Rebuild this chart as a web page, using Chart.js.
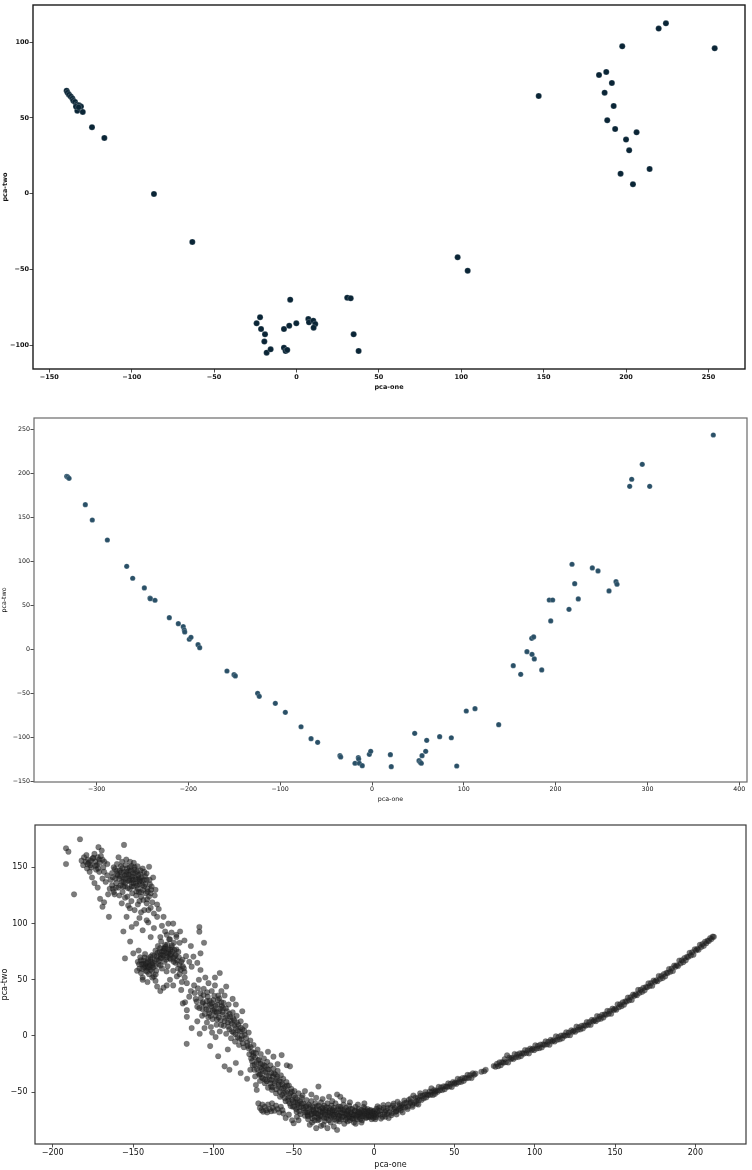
<!DOCTYPE html>
<html><head><meta charset="utf-8">
<script src="https://cdn.jsdelivr.net/npm/chart.js@4.4.1/dist/chart.umd.min.js"></script>
<style>
html,body{margin:0;padding:0;background:#fff;}
.box{position:absolute;left:0;width:752px;}
canvas{display:block;}
</style></head><body>
<div class="box" style="top:0;height:395px"><canvas id="c1" width="752" height="395"></canvas></div>
<div class="box" style="top:395px;height:415px"><canvas id="c2" width="752" height="415"></canvas></div>
<div class="box" style="top:810px;height:360px"><canvas id="c3" width="752" height="360"></canvas></div>
<script>
// ---------- Panel 1 data ----------
const topPoints = [
 [-139.5,68.0],[-138.9,66.7],[-138.0,65.4],[-137.0,64.1],[-136.0,62.8],[-135.4,61.4],[-134.4,60.6],[-133.4,58.8],
 [-132.0,58.4],[-130.8,57.5],[-133.0,54.8],[-129.7,54.0],[-133.8,57.5],[-132.2,57.1],[-124.1,43.9],[-116.6,36.8],
 [-86.5,-0.2],[-63.2,-31.9],
 [-24.2,-85.6],[-22.1,-81.6],[-21.5,-89.4],[-19.1,-92.9],[-19.5,-97.7],[-18.1,-105],[-15.7,-102.8],[-7.6,-89.4],
 [-7.6,-101.7],[-6.6,-103.9],[-5.6,-103.2],[-4.4,-87.2],[-3.8,-70],[-0.1,-85.6],[7.2,-82.8],[7.6,-85],[10.2,-83.9],
 [11.4,-86.1],[10.4,-88.5],[30.8,-68.7],[32.9,-69.1],[34.7,-92.9],[37.7,-103.9],
 [97.8,-42],[103.9,-50.9],[147,64.5],[183.6,78.4],[188,80.4],[191.4,73.1],[187,66.7],[192.5,57.9],[188.6,48.5],
 [193.4,42.7],[206.4,40.5],[200,35.7],[201.9,28.6],[196.7,13.2],[214.3,16.3],[204.2,6.2],[197.7,97.3],[219.8,109],
 [224.2,112.5],[253.8,96]
];
const topXTicks = [-150,-100,-50,0,50,100,150,200,250];
const topYTicks = [-100,-50,0,50,100];

// ---------- Panel 2 data ----------
const midPoints = [
 [-332.6,196.6],[-331.5,195.8],[-330,194.3],[-312.3,164.3],[-304.7,146.9],[-288.3,124.2],[-267.2,94.3],[-260.7,80.7],
 [-248,69.7],[-241.8,58.3],[-241.5,57.5],[-236.4,55.7],[-220.8,35.9],[-211,29.1],[-205.6,25.7],[-204.5,21.9],
 [-204,19.7],[-199,11.4],[-197.2,13.6],[-189.5,5.2],[-187.7,1.8],[-158,-24.7],[-150.3,-28.9],[-148.9,-30.3],
 [-124.6,-50],[-122.8,-53.4],[-105.3,-61.4],[-94.4,-71.6],[-77.3,-88],[-66.4,-101.6],[-59.2,-105.7],[-34.9,-120.9],
 [-34.1,-122.4],[-18.5,-129.5],[-14.9,-123.2],[-14.5,-124.7],[-13.8,-129.5],[-10.6,-132.3],[-2.9,-119.3],[-1.4,-115.9],
 [20,-119.7],[21,-133.4],[46.5,-95.5],[59.6,-103.4],[58.5,-115.9],[54.5,-120.9],[51.2,-126.6],[52.6,-128.4],
 [53.7,-129.5],[73.7,-99.3],[86.4,-100.5],[92.3,-132.6],
 [102.7,-70.1],[112.2,-67.5],[138,-85.7],[153.9,-18.6],[162,-28.4],[184.9,-23.5],[168.8,-2.7],[174.3,-5.7],
 [176.8,-11],[174,12.5],[176.1,14],[194.7,32.2],[193.1,56],[196.8,56],[214.6,45.4],[224.7,57.2],[217.9,96.6],
 [240,92.4],[246.2,89],[220.8,74.5],[265.8,76.8],[266.9,73.9],[258.2,66.3],
 [282.9,193.2],[280.7,185.2],[302.5,185.2],[294.4,210.2],[371.8,243.5]
];
const midXTicks = [-300,-200,-100,0,100,200,300,400];
const midYTicks = [-150,-100,-50,0,50,100,150,200,250];

// ---------- Panel 3 data ----------
const cloudTopLeft = [
 [-191.7,167],[-190.2,164],[-191.7,153],[-186.7,126],[-183,175],[-182,156],[-180.5,159],[-179,161],[-178,157],
 [-177.5,154],[-176,150],[-175,158],[-174,162],[-173.5,155],[-172.5,152],[-171.5,168],[-171,157],[-170,160],
 [-169.5,165],[-168.5,150],[-167.8,155],[-166,153],[-178.6,149],[-177,146],[-175.5,141],[-174,136],[-172,132],
 [-170.5,122],[-169,115],[-165,106],[-171,146],[-169,140],[-167,137],[-166,143],[-164.5,131],[-176.5,152],
 [-173,148],[-179.5,155],[-181,152],[-174.8,158.5],[-172,159],[-168,146],[-163,134],[-165.5,126],[-168,119],[-162,128]
];
const cloudUpper = [
 [-163,145],[-162,150],[-161,140],[-160.5,136],[-160,147],[-159,159],[-159,132],[-158,142],[-157.5,151],[-157,137],
 [-156.5,128],[-156,146],[-155.6,170],[-155,140],[-155,133],[-154.5,152],[-154,144],[-153.5,124],[-153,138],
 [-152.5,147],[-152,131],[-152,150],[-151.5,142],[-151,136],[-150.5,127],[-150,145],[-150,139],[-149.5,133],
 [-149,150],[-148.5,141],[-148,125],[-148,136],[-147.5,146],[-147,131],[-146.5,140],[-146,120],[-146,135],
 [-145.5,144],[-145,128],[-144.5,138],[-144,149],[-143.5,121],[-143,133],[-142.5,142],[-142,127],[-141.5,139],
 [-141,131],[-140.4,112],[-140,150.6],[-140,124],[-139.5,135],[-139,127],[-138.4,133],[-138,119],[-137.5,141],
 [-136.5,125],[-136,130],[-135,117],[-158.5,125],[-161.5,126],[-164,139],[-157,118],[-155,123],[-153,116],
 [-151,120],[-149,112],[-147,117],[-145,110],[-160,153],[-156.8,155],[-154.2,157],[-151.8,155],[-149.5,154],
 [-147.2,151],[-143,146],[-159.5,143],[-157.8,134],[-153.7,149],[-150.8,133],[-148.6,145],[-146.3,128],
 [-144.2,134],[-152.3,140],[-154.8,136],[-156.2,141],[-162.5,131],[-158.2,147],[-145.5,139],[-141.5,118],
 [-152,113.6],[-150.8,97],[-156,93],[-151.8,84],[-141.5,103],[-140.5,101],[-137,109],[-135,106],[-131,106],
 [-128,100],[-125,100],[-129,90],[-126,92],[-120.7,93],[-108.7,97],[-108.7,92.8],[-105.8,83],[-143,112],
 [-146,105],[-139,114],[-134,113],[-132,98],[-137,96],[-144,94],[-148,100],[-154,106],[-130,93],[-127,86],
 [-123,88],[-133,88],[-118,85],[-114,80],[-139,88]
];
const cloudMiddle = [
 [-155,69],[-149.8,73.5],[-147,66],[-146,60],[-145.5,70],[-145,56],[-144.5,64],[-144,52],[-143.5,67],[-143,61],
 [-142.5,73],[-142,58],[-141.5,65],[-141,62],[-140.5,69],[-140,55],[-139.5,63],[-139,59],[-138.5,66],[-138,72],
 [-137.5,61],[-137,53],[-136.5,67],[-136,76],[-135.5,58],[-135,71],[-134.5,80],[-134,64],[-133.5,75],[-133,69],
 [-132.5,84],[-132,60],[-131.5,72],[-131,78],[-130.5,66],[-130,81],[-129.5,74],[-129,70],[-128.5,62],[-128,77],
 [-127.5,86],[-127,72],[-126.5,68],[-126,79],[-125.5,75],[-125,58],[-124.5,83],[-124,71],[-123.5,65],[-123,77],
 [-122,60],[-121.5,70],[-121,55],[-120,66],[-119,62],[-144,50],[-141,48],[-135,44],[-133,40],[-131,43],[-129,45],
 [-127,50],[-136,49],[-138,52],[-147.5,58],[-146.5,76],[-140.8,60.5],[-139.2,67.8],[-142.6,62.3],[-137.8,63.2],
 [-130.8,75.7],[-128.2,73.2],[-126.8,76.8],[-132.7,72.3],[-129.8,79.3],[-124.6,66],[-122.7,53],[-119.6,48],
 [-117.8,52],[-116.5,47],[-120,41],[-125,45],[-118,57],[-112.4,70.6],[-113.5,61.7],[-108,73.5],[-110,65],
 [-123,90],[-121,83],[-117,71],[-115,66],
 [-119,29],[-117.6,30],[-116.5,23],[-116.5,17],[-113.5,7],[-116.6,-7],[-115,35],[-114,40],[-112,45],[-111,33],
 [-110,26],[-109,50],[-108,58.7],[-108,38],[-107,18],[-106.5,30],[-106,42],[-105,52],[-104.5,24],[-104,12],
 [-103.5,35],[-103,47],[-102.5,20],[-102,28],[-101.5,8],[-101,40],[-100.5,15],[-100,32],[-99.5,24],[-99,45],
 [-98.5,18],[-98,10],[-97.5,28],[-97,36],[-96.5,22],[-96,56],[-96,4],[-95.5,14],[-95,30],[-94.5,19],[-94,25],
 [-93.5,9],[-93,36],[-92.5,16],[-92,2],[-91.5,22],[-91,12],[-90.5,28],[-90,6],[-89.5,17],[-89,-2],[-88.5,11],
 [-88,21],[-87.5,3],[-87,14],[-86.5,-5],[-86,7],[-85.5,18],[-85,-1],[-84.5,10],[-84,-8],[-83.5,4],[-83,13],
 [-82.5,-3],[-82,6],[-81,-10],[-80.5,1],[-80,9],[-79,-6],[-78,3],[-104,31],[-101.2,26.5],[-99.2,21.8],
 [-97.8,14.6],[-96.3,33.4],[-94.8,26.7],[-103.2,16.8],[-106.8,24],[-100.8,3],[-98.6,-1],[-105.5,7],[-110,13],
 [-108.5,2],[-95,40],[-97,-18],[-93,-27],[-90,-30],[-83,-33],[-86,-24],[-91,-12],[-102,-9],[-88,33],[-86,28],
 [-82,22],[-92,44],[-99,52]
];
const cloudLower = [
 [-79,-38],[-78,-11],[-77,-4],[-76.5,-20],[-76,-14],[-75.5,-26],[-75,-8],[-75,-15],[-74.5,-30],[-74,-19],
 [-73.5,-43.6],[-73,-48],[-73,-24],[-72.5,-12],[-72,-33],[-71.5,-21],[-71,-28],[-70.5,-16],[-70,-37],[-69.5,-25],
 [-69,-31],[-68.5,-20],[-68,-42],[-67.5,-27],[-67,-35],[-66.5,-23],[-66,-46],[-65.5,-30],[-65,-39],[-64.5,-26],
 [-64,-33],[-63.5,-48],[-63,-36],[-62.6,-18.4],[-62.5,-29],[-62,-42],[-61.5,-34],[-61,-51],[-60.5,-38],[-60,-31],
 [-59.5,-45],[-59,-40],[-58.5,-54],[-58,-35],[-57.5,-17],[-57.5,-47],[-57,-43],[-56.5,-38],[-56,-51],[-55.5,-45],
 [-55,-58],[-54.3,-26],[-54.5,-41],[-54,-49],[-53.5,-55],[-53,-44],[-52.3,-27],[-52.5,-60],[-52,-51],[-51.5,-47],
 [-51,-57],[-50.5,-63],[-50,-53],[-49.5,-49],[-49,-59],[-48.5,-65],[-48,-56],[-47.5,-61],[-47,-51],[-46.5,-67],
 [-46,-58],[-45.5,-63],[-45,-55],[-77,-30],[-71,-40],[-66,-14],[-64,-45],[-60,-25],[-67.8,-38.8],[-70.8,-34],[-74,-36],
 [-72,-60],[-71,-64],[-70,-66],[-69,-67.3],[-68,-63],[-67,-66],[-66,-61],[-65,-65],[-64,-67],[-63,-64],[-62,-66.5],
 [-61,-62],[-60,-65],[-59,-68],[-58,-63],[-57,-66],[-69.5,-61],[-66.5,-68],[-63.5,-60],
 [-56.4,-69],[-55,-73],[-53,-70],[-51,-75],[-50,-77.7],[-48,-72],[-47,-75]
];
const valleyFloor = [
 [-44,-60],[-43.5,-66],[-43,-71],[-42.5,-63],[-42,-57],[-41.5,-68],[-41,-74],[-40.5,-61],[-40,-65],[-39.5,-70],
 [-39,-58],[-38.5,-77],[-38,-63],[-37.5,-67],[-37,-72],[-36.5,-60],[-36,-65],[-35.5,-69],[-35,-75],[-34.6,-45],
 [-34.5,-62],[-34,-66],[-33.5,-71],[-33,-59],[-32.5,-64],[-32,-68],[-31.5,-79],[-31,-62],[-30.5,-70],[-30,-66],
 [-29.5,-73],[-29,-60],[-28.5,-68],[-28,-54],[-28,-64],[-27.5,-71],[-27,-77],[-26.5,-62],[-26,-67],[-25.5,-70],
 [-25,-80.6],[-25,-64],[-24.5,-74],[-24,-60],[-23.5,-68],[-23,-52],[-23,-83.6],[-22.5,-65],[-22,-71],[-21.5,-76],
 [-21,-54],[-21,-63],[-20.5,-68],[-20,-72],[-19.5,-66],[-19,-61],[-18.5,-78],[-18,-69],[-17.5,-64],[-17,-73],
 [-16.5,-67],[-16,-70],[-15.5,-62],[-15,-75],[-14.5,-68],[-14,-72],[-13.5,-65],[-13,-70],[-12.5,-77],[-12,-67],
 [-11.5,-63],[-11,-71],[-10.5,-74],[-10,-68],[-9.5,-65],[-9,-72],[-8.5,-70],[-8,-66],[-7.5,-75],[-7,-69],
 [-6.5,-63],[-6,-71],[-5.5,-67],[-5,-73],[-4.5,-69],[-4,-65],[-3.5,-72],[-3,-68],[-2.5,-70],[-2,-66],[-1.5,-74],
 [-1,-69],[-0.5,-67],[0,-71],[-44.5,-53],[-40,-79],[-36,-82],[-33,-80],[-29,-82],[-43,-49],[-39,-52],[-36,-55],
 [-32,-56],[-26,-58],[-19,-57],[-15,-59],[-10,-61],[-6,-60],[-37.2,-68.6],[-34.8,-72.8],[-30.6,-75.6],
 [-27.7,-66.4],[-24.3,-69.9],[-20.8,-65.2],[-17.3,-70.7],[-13.7,-73.4],[-9.2,-69.1],[-5.8,-64.6],[-2.6,-72.1],
 [-41.3,-70.2],[-38.4,-73.2],[-31.8,-66.8],[-22.2,-73.8],[-16.4,-76],[-11.4,-78],[-7.8,-77]
];
const cloudDense = [
 [-161.2,148.5],[-159.8,144.2],[-158.6,139.8],[-157.4,145.6],[-156.6,149.3],[-155.8,137.4],[-154.9,142.8],
 [-153.9,146.1],[-153.2,131.6],[-152.7,143.5],[-151.9,138.3],[-151.2,146.8],[-150.4,141.7],[-149.7,136.2],
 [-148.9,147.9],[-148.2,139.4],[-147.6,133.8],[-146.8,143.1],[-146.1,137.6],[-145.3,147.2],[-144.7,141.4],
 [-143.8,129.9],[-143.1,138.7],[-142.3,135.2],[-141.6,144.6],[-140.9,128.4],[-139.7,138.9],[-138.8,130.1],
 [-160.7,131.9],[-162.6,141.3],[-156.1,132.7],[-150.9,151.2],[-147.9,128.6],[-144.9,123.8],[-141.2,121.6],
 [-176.2,155.8],[-173.4,151.4],[-170.8,154.2],[-178.3,152.7],[-171.7,149.1],[-168.9,156.8],
 [-146.2,63.8],[-145.1,67.4],[-144.3,59.6],[-143.6,63.9],[-142.8,69.8],[-142.1,64.7],[-141.3,57.2],[-140.6,66.1],
 [-139.8,61.3],[-139.1,70.4],[-138.2,57.8],[-137.6,64.9],[-136.8,71.6],[-136.1,62.4],[-135.3,68.3],[-134.7,73.9],
 [-133.8,66.8],[-133.1,78.2],[-132.4,69.6],[-131.7,75.1],[-130.9,71.3],[-130.2,77.6],[-129.4,67.9],[-128.7,81.4],
 [-127.9,74.6],[-127.2,69.2],[-126.4,72.8],[-125.8,80.6],[-124.9,69.7],[-124.2,76.4],[-123.4,72.1],[-122.6,67.3],
 [-121.8,74.8],[-121.1,63.4],[-120.3,58.9],[-119.2,67.8],[-118.4,60.2],[-135.9,54.7],[-132.9,62.8],[-129.1,57.4],
 [-111.6,38.2],[-110.4,30.6],[-109.6,42.4],[-108.7,24.8],[-107.8,33.7],[-106.9,28.9],[-106.1,36.4],[-105.3,19.6],
 [-104.7,27.3],[-103.9,38.8],[-103.1,23.1],[-102.3,31.4],[-101.7,17.8],[-100.9,29.2],[-100.2,22.4],[-99.4,35.7],
 [-98.7,26.8],[-97.9,20.9],[-97.2,31.9],[-96.6,16.4],[-95.8,24.2],[-95.1,9.8],[-94.3,21.4],[-93.7,29.6],
 [-92.9,13.2],[-92.2,24.7],[-91.4,17.6],[-90.7,8.4],[-89.9,19.8],[-89.2,13.6],[-88.4,4.2],[-87.8,15.9],
 [-86.9,9.3],[-86.2,1.6],[-85.4,12.2],[-84.7,4.8],[-83.8,-2.4],[-83.1,7.6],[-82.3,0.3],[-81.6,-6.4],[-80.8,4.6],
 [-79.6,-1.8],[-78.7,-8.6],
 [-77.6,-16.2],[-76.8,-9.8],[-75.9,-22.4],[-75.2,-17.8],[-74.3,-25.6],[-73.6,-15.1],[-72.8,-29.3],[-72.1,-21.7],
 [-71.3,-34.6],[-70.6,-24.8],[-69.8,-29.6],[-69.1,-37.8],[-68.3,-26.4],[-67.6,-32.1],[-66.8,-40.2],[-66.1,-29.7],
 [-65.3,-35.6],[-64.6,-42.1],[-63.8,-38.9],[-63.1,-45.7],[-62.3,-33.4],[-61.6,-40.6],[-60.8,-47.3],[-60.1,-36.1],
 [-59.3,-43.2],[-58.7,-49.6],[-57.9,-40.7],[-57.2,-52.4],[-56.4,-46.3],[-55.7,-55.2],[-54.9,-50.1],[-54.1,-44.2],
 [-53.4,-57.9],[-52.7,-53.6],[-51.9,-62.4],[-51.2,-49.6],[-50.4,-58.2],[-49.7,-62.8],[-48.9,-54.7],[-48.2,-67.3],
 [-47.4,-59.3],[-46.7,-63.4],[-45.8,-69.6],[-45.1,-60.1],
 [-43.7,-64.2],[-42.8,-67.9],[-41.9,-62.1],[-41.2,-71.4],[-40.3,-67.6],[-39.6,-63.1],[-38.7,-69.2],[-37.9,-65.4],
 [-37.1,-75.1],[-36.3,-68.7],[-35.6,-62.6],[-34.8,-69.8],[-34.1,-74.3],[-33.3,-67.2],[-32.6,-71.6],[-31.8,-64.1],
 [-31.1,-72.8],[-30.3,-67.9],[-29.6,-63.4],[-28.8,-70.7],[-28.1,-74.9],[-27.3,-68.2],[-26.6,-72.3],[-25.8,-65.9],
 [-25.1,-71.8],[-24.3,-66.3],[-23.6,-75.4],[-22.8,-69.6],[-22.1,-62.7],[-21.3,-70.8],[-20.6,-74.1],[-19.8,-68.4],
 [-19.1,-71.9],[-18.3,-65.7],[-17.6,-74.6],[-16.8,-69.3],[-16.1,-66.2],[-15.3,-71.8],[-14.6,-64.8],[-13.8,-69.6],
 [-13.1,-73.7],[-12.3,-70.2],[-11.6,-66.4],[-10.8,-72.6],[-10.1,-70.1],[-9.3,-67.4],[-8.6,-73.9],[-7.8,-68.2],
 [-7.1,-71.6],[-6.3,-66.9],[-5.6,-69.8],[-4.8,-72.4],[-4.1,-67.1],[-3.3,-70.6],[-2.6,-66.3],[-1.8,-71.2],
 [-1.1,-68.1],[-0.3,-72.9],[0.6,-69.3],[1.4,-70.8]
];
const rightArm = [
 [0.4,-66.5],[1.1,-72.3],[1.9,-67.6],[2.6,-69.4],[3.2,-63.8],[3.9,-70.0],[4.7,-66.0],[5.3,-72.0],[6.0,-64.0],
 [6.8,-67.6],[7.5,-66.4],[8.1,-69.4],[8.9,-61.1],[9.6,-67.9],[0.8,-74.0],[2.2,-62.5],[4.3,-73.5],[5.8,-61.5],
 [7.2,-71.8],[9.1,-73.0],[1.5,-64.8],[3.5,-66.8],[6.4,-69.9],[8.5,-64.2],
 [10.3,-63.9],[11.0,-68.7],[11.8,-61.9],[12.5,-65.4],[13.1,-64.1],[13.9,-66.9],[14.6,-58.5],[15.2,-65.2],
 [16.0,-60.6],[16.7,-66.3],[17.3,-61.6],[18.0,-63.2],[18.8,-57.4],[19.5,-63.5],[10.8,-70.5],[12.2,-60.2],
 [14.0,-69.8],[15.7,-62.5],[17.8,-68.0],[19.0,-59.8],[13.4,-67.5],[16.4,-64.0],
 [20.2,-59.3],[20.9,-65.0],[21.7,-56.7],[22.4,-60.0],[23.0,-58.7],[23.8,-61.3],[24.5,-52.9],[25.1,-59.5],
 [25.9,-54.8],[26.6,-60.3],[27.2,-55.5],[28.0,-57.0],[28.7,-51.1],[29.5,-57.0],[21.2,-62.8],[22.8,-55.6],
 [24.0,-63.0],[26.1,-57.9],[27.6,-61.0],[29.0,-53.2],
 [30.3,-53.3],[31.0,-55.5],[31.8,-52.1],[32.5,-54.7],[33.1,-52.1],[33.9,-52.6],[34.6,-49.4],[35.2,-52.2],
 [36.0,-49.8],[36.7,-52.4],[37.4,-48.1],[38.1,-49.5],[38.9,-48.5],[39.6,-49.7],[32.0,-49.8],[35.7,-46.5],[37.9,-51.6],
 [40.3,-45.2],[41.0,-48.3],[41.8,-45.9],[42.5,-48.1],[43.3,-44.8],[44.0,-47.4],[44.8,-44.7],[45.5,-45.3],
 [46.2,-42.2],[47.0,-44.9],[47.7,-42.6],[48.4,-45.3],[49.2,-40.9],[49.9,-42.4],
 [50.6,-41.4],[51.3,-42.6],[52.1,-38.0],[52.8,-41.1],[53.6,-38.7],[54.3,-40.8],[55.1,-37.5],[55.8,-40.0],
 [56.6,-37.3],[57.4,-37.8],[58.2,-34.6],[59.0,-37.3],[59.8,-34.8],
 [60.7,-37.4],[61.5,-33.1],[62.3,-34.5],[63.2,-33.5],[66.8,-31.8],[68.5,-31.4],[69.5,-30.0],
 [74.5,-26.7],[75.6,-27.3],[76.5,-24.8],[77.3,-26.9],[78.1,-23.5],[78.9,-26.0],[79.7,-23.3],
 [80.5,-23.8],[81.3,-20.6],[82.0,-23.3],[82.8,-17.2],[83.5,-23.5],[84.3,-19.1],[85.1,-20.5],[85.9,-19.5],
 [86.7,-20.5],[87.5,-16.0],[88.3,-19.0],[89.1,-16.6],[89.9,-18.7],
 [90.7,-15.4],[91.5,-17.9],[92.3,-15.2],[93.1,-15.7],[94.0,-12.5],[94.8,-15.2],[95.6,-12.8],[96.4,-15.5],
 [97.2,-11.1],[98.0,-12.5],[98.8,-11.5],[99.6,-12.6],
 [100.4,-8.2],[101.2,-11.2],[102.0,-8.8],[102.8,-10.9],[103.6,-7.6],[104.4,-10.2],[105.2,-7.5],[106.0,-8.0],
 [106.8,-4.8],[107.6,-7.5],[108.4,-5.2],[109.2,-7.8],
 [110.0,-3.4],[110.8,-4.8],[111.6,-3.8],[112.4,-4.8],[113.2,-0.3],[114.0,-3.3],[114.8,-0.9],[115.6,-3.0],
 [116.4,0.4],[117.2,-2.1],[118.0,0.6],[118.8,0.1],[119.6,3.3],
 [120.4,0.7],[121.2,3.1],[122.0,0.6],[122.8,5.1],[123.6,3.7],[124.4,4.8],[125.2,3.7],[126.0,8.3],[126.8,5.4],
 [127.6,7.8],[128.4,5.8],[129.2,9.1],
 [130.0,6.7],[130.8,9.5],[131.6,9.1],[132.4,12.4],[133.2,9.8],[134.0,12.3],[134.8,9.8],[135.6,14.3],[136.4,13.0],
 [137.2,14.1],[138.0,13.1],[138.8,17.7],[139.6,14.8],
 [140.4,17.3],[141.2,15.4],[142.0,18.8],[142.8,16.4],[143.6,19.3],[144.4,18.9],[145.2,22.3],[146.0,19.7],
 [146.8,22.2],[147.6,19.8],[148.4,24.3],[149.2,23.1],
 [150.0,24.2],[150.8,23.4],[151.6,28.2],[152.4,25.5],[153.2,28.2],[154.0,26.4],[154.8,30.0],[155.6,27.8],
 [156.4,30.8],[157.2,30.6],[158.0,34.1],[158.8,31.7],[159.6,34.4],
 [160.4,32.1],[161.2,36.8],[162.0,35.7],[162.8,37.0],[163.6,36.2],[164.4,41.0],[165.2,38.3],[166.0,41.0],
 [166.8,39.2],[167.6,42.8],[168.4,40.6],[169.2,43.6],
 [170.0,43.4],[170.8,46.9],[171.6,44.4],[172.4,47.1],[173.2,44.7],[174.0,49.4],[174.8,48.3],[175.6,49.5],
 [176.4,48.7],[177.2,53.4],[178.0,50.7],[178.8,53.4],[179.6,51.5],
 [180.4,55.1],[181.2,53.0],[182.0,56.1],[182.8,56.0],[183.6,59.6],[184.4,57.2],[185.2,60.0],[186.0,57.8],
 [186.8,62.6],[187.6,61.6],[188.4,62.9],[189.2,62.2],
 [190.0,67.1],[190.8,64.5],[191.6,67.3],[192.4,65.7],[193.2,69.4],[194.0,67.3],[194.8,70.4],[195.6,70.3],
 [196.4,74.0],[197.2,71.7],[198.0,74.5],[198.8,72.3],[199.6,77.1],
 [200.4,76.1],[201.2,77.5],[202.0,76.8],[202.8,81.1],[203.6,79.1],[204.4,81.8],[205.2,80.1],[206.0,83.8],
 [206.8,82.5],[207.6,84.8],[208.4,84.6],[209.2,87.1],[210.0,86.2],[210.8,88.4],[211.5,88.2]
];
const botXTicks = [-200,-150,-100,-50,0,50,100,150,200];
const botYTicks = [-50,0,50,100,150];

// ---------- helpers ----------
const fmt = v => (v < 0 ? '\u2212' + Math.abs(v) : String(v));
const framePlugin = {
  id: 'frame',
  afterDraw(chart, args, opts) {
    const {ctx, chartArea: a} = chart;
    ctx.save();
    ctx.strokeStyle = opts.color;
    ctx.lineWidth = opts.width;
    ctx.strokeRect(a.left, a.top, a.right - a.left, a.bottom - a.top);
    ctx.restore();
  }
};

function makeChart(id, o) {
  const W = 752;
  const font = {family: 'DejaVu Sans', size: o.fs, weight: o.fw};
  new Chart(document.getElementById(id), {
    type: 'scatter',
    data: {datasets: [{
      data: o.pts.map(p => ({x: p[0], y: p[1]})),
      backgroundColor: o.fill, borderColor: o.edge, borderWidth: o.edgeW,
      pointRadius: o.r, pointHoverRadius: o.r
    }]},
    options: {
      responsive: false, animation: false, devicePixelRatio: 1, events: [],
      layout: {padding: {left: 0, top: o.top, right: W - o.right, bottom: 0}},
      plugins: {legend: {display: false}, tooltip: {enabled: false},
                frame: {color: o.frameC, width: o.frameW}},
      scales: {
        x: {
          type: 'linear', min: o.xr[0], max: o.xr[1],
          afterFit: s => { s.height = o.h - o.bottom; },
          afterBuildTicks: s => { s.ticks = o.xt.map(v => ({value: v})); },
          border: {display: false},
          grid: {drawOnChartArea: false, drawTicks: true, tickLength: 3.5, color: '#222', lineWidth: 0.8},
          ticks: {font, color: '#111', padding: o.xpad, maxRotation: 0, autoSkip: false, callback: fmt},
          title: {display: true, text: 'pca-one', font, color: '#111', padding: {top: 0, bottom: o.xtp}}
        },
        y: {
          type: 'linear', min: o.yr[0], max: o.yr[1],
          afterFit: s => { s.width = o.left; },
          afterBuildTicks: s => { s.ticks = o.yt.map(v => ({value: v})); },
          border: {display: false},
          grid: {drawOnChartArea: false, drawTicks: true, tickLength: 3.5, color: '#222', lineWidth: 0.8},
          ticks: {font, color: '#111', padding: o.ypad, autoSkip: false, callback: fmt},
          title: {display: true, text: 'pca-two', font, color: '#111', padding: {top: o.ytp, bottom: 0}}
        }
      }
    },
    plugins: [framePlugin]
  });
}

makeChart('c1', {
  pts: topPoints, h: 395, left: 33, right: 745, top: 5, bottom: 369,
  xr: [-159.9, 272.2], yr: [-115.8, 124.6], xt: topXTicks, yt: topYTicks,
  fs: 6.5, fw: 'bold', xpad: 0.5, ypad: 0.5, xtp: 4, ytp: 1,
  fill: '#0a2536', edge: 'rgba(255,255,255,0.6)', edgeW: 0.3, r: 3.0, frameC: '#1a1a1a', frameW: 1.4
});
makeChart('c2', {
  pts: midPoints, h: 415, left: 34, right: 747, top: 23, bottom: 387,
  xr: [-368.2, 408.5], yr: [-150.8, 262.8], xt: midXTicks, yt: midYTicks,
  fs: 6.3, fw: 'normal', xpad: 0.5, ypad: 0.5, xtp: 6.5, ytp: 1,
  fill: '#2a5067', edge: 'rgba(255,255,255,0.6)', edgeW: 0.3, r: 2.6, frameC: '#6a6a6a', frameW: 1.2
});
makeChart('c3', {
  pts: [].concat(cloudTopLeft, cloudUpper, cloudMiddle, cloudLower, valleyFloor, cloudDense, rightArm),
  h: 360, left: 35, right: 746, top: 15, bottom: 334,
  xr: [-211, 231.5], yr: [-96.1, 187.7], xt: botXTicks, yt: botYTicks,
  fs: 8, fw: 'normal', xpad: 1, ypad: 4, xtp: 0.5, ytp: 0.5,
  fill: 'rgba(35,35,35,0.6)', edge: 'rgba(20,20,20,0.3)', edgeW: 0.5, r: 2.8, frameC: '#3a3a3a', frameW: 1.2
});
</script>
</body></html>
